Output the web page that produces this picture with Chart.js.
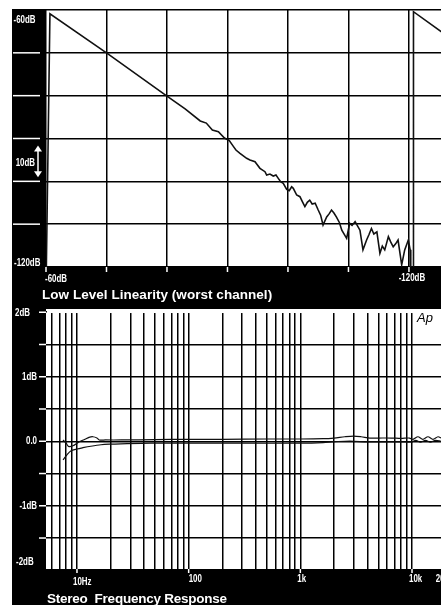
<!DOCTYPE html>
<html>
<head>
<meta charset="utf-8">
<script src="https://cdn.jsdelivr.net/npm/chart.js@4.4.1/dist/chart.umd.min.js"></script>
<style>
html, body { margin: 0; padding: 0; background: #fff; width: 441px; height: 605px; overflow: hidden; }
.wrap { position: absolute; left: 12px; width: 429px; height: 298px; }
#linWrap { top: 9px; }
#frWrap { top: 307px; }
canvas { display: block; }
</style>
</head>
<body>
<div class="wrap" id="linWrap"><canvas id="lin" width="429" height="298"></canvas></div>
<div class="wrap" id="frWrap"><canvas id="fr" width="429" height="298"></canvas></div>
<script>
// ---- Low level linearity: input level (dB) vs measured output level (dB)
const linInputDb = [-60.0, -60.65, -70, -80, -83, -85.5, -86.5, -87.5, -88.5, -89.5, -90.3, -91.0, -91.4, -92.07,
  -93.17, -93.72, -94.55, -94.83, -95.37, -96.2, -96.48, -97.02, -97.57, -98.02, -98.4, -98.79, -99.22, -99.79,
  -100.21, -100.61, -100.88, -101.44, -101.98, -102.4, -102.8, -103.2, -103.6, -104.0, -104.5, -105.0, -105.4,
  -105.8, -106.4, -106.8, -107.2, -107.6, -108.0, -108.5, -108.9, -109.7, -110.2, -110.6, -111.1, -111.9, -112.4,
  -113.0, -113.4, -113.8, -114.2, -114.7, -115.2, -115.6, -116.0, -116.6, -117.0, -117.4, -117.8, -118.2, -118.8,
  -119.3, -119.9, -120.2, -120.3, -120.7, -120.75, -125.5];
const linOutputDb = [-126, -60.9, -70.0, -80.1, -83.1, -85.9, -86.4, -88.0, -88.4, -89.9, -90.5, -91.9, -92.69, -93.46,
  -94.63, -95.02, -95.42, -95.96, -96.96, -97.75, -98.52, -98.29, -98.76, -98.52, -99.3, -100.09, -100.46, -101.86,
  -102.19, -101.26, -101.63, -103.19, -103.59, -104.8, -105.9, -104.9, -104.4, -105.3, -105.1, -106.7, -107.9,
  -110.2, -108.3, -107.6, -106.7, -107.4, -108.3, -109.6, -111.4, -113.3, -109.8, -110.3, -109.4, -111.4, -116.0,
  -113.7, -112.4, -111.0, -112.3, -111.8, -116.8, -115.1, -116.0, -112.9, -114.2, -115.3, -114.6, -113.7, -119.5,
  -116.0, -113.7, -116.0, -127, -127, -60.4, -65.2];
const linGridDb = [-60, -70, -80, -90, -100, -110, -120];
const linAxisEnd = -125.3;

// ---- Stereo frequency response: two channels, level deviation in dB
const freqLeftHz = [7.5, 8.0, 8.4, 9.2, 10.4, 11.8, 12.8, 13.9, 15.1, 15.8, 18, 25, 50, 100, 200, 500, 1000,
  1600, 2000, 2500, 3000, 3500, 4200, 5000, 6500, 8000, 9500, 10200, 11300, 12500, 13900, 15400, 17100, 18200];
const levelLeftDb = [0.02, -0.03, -0.08, -0.07, -0.01, 0.03, 0.06, 0.07, 0.05, 0.02, 0.02, 0.02, 0.025, 0.03,
  0.03, 0.035, 0.035, 0.04, 0.05, 0.07, 0.08, 0.07, 0.05, 0.05, 0.05, 0.045, 0.05, 0.03, 0.07, 0.03, 0.07,
  0.03, 0.07, 0.05];
const freqRightHz = [7.5, 8.1, 8.8, 10, 11.3, 13.3, 16.4, 20, 24.7, 46, 100, 300, 1000, 1600, 2000, 2500, 3000,
  4000, 6000, 8000, 10000, 10800, 11900, 13200, 14600, 16200, 18200];
const levelRightDb = [-0.29, -0.215, -0.15, -0.12, -0.10, -0.077, -0.054, -0.045, -0.04, -0.03, -0.03, -0.03,
  -0.03, -0.02, -0.005, 0.0, 0.0, -0.01, -0.01, -0.01, -0.01, 0.015, -0.015, 0.015, -0.015, 0.015, 0.0];
const freqGridHz = [6, 7, 8, 9, 10, 20, 30, 40, 50, 60, 70, 80, 90, 100, 200, 300, 400, 500, 600, 700, 800, 900,
  1000, 2000, 3000, 4000, 5000, 6000, 7000, 8000, 9000, 10000];
const levelGridDb = [-2, -1.5, -1, -0.5, 0, 0.5, 1, 1.5, 2];
const freqAxisMin = 5.28, freqAxisMax = 18180;
const levelAxisMin = -1.98, levelAxisMax = 2.05;

// ---- Texts
const linTitle = 'Low Level Linearity (worst channel)';
const linLevelLabels = ['-60dB', '-120dB'];
const linDivisionLabel = '10dB';
const frTitle = 'Stereo  Frequency Response';
const frLevelLabels = [{ v: 2, t: '2dB' }, { v: 1, t: '1dB' }, { v: 0, t: '0.0' }, { v: -1, t: '-1dB' }, { v: -2, t: '-2dB' }];
const frFreqLabels = [{ v: 10, t: '10Hz' }, { v: 100, t: '100' }, { v: 1000, t: '1k' }, { v: 10000, t: '10k' }, { v: 20000, t: '20k' }];
const frFreqTicks = [10, 100, 1000, 10000];
const frBadge = 'Ap';

const SANS = '"Liberation Sans", Arial, Helvetica, sans-serif';

// condensed label text (horizontally squeezed sans bold)
function put(ctx, s, x, y, font, align, color, squeeze) {
  const k = squeeze || 0.72;
  ctx.save();
  ctx.font = font;
  ctx.textAlign = align || 'left';
  ctx.textBaseline = 'middle';
  ctx.fillStyle = color || '#fff';
  ctx.translate(x, y);
  ctx.scale(k, 1);
  ctx.fillText(s, 0, 0);
  ctx.restore();
}
function putFit(ctx, s, x, y, font, width) {
  ctx.save();
  ctx.font = font;
  ctx.letterSpacing = '0px';
  const w = ctx.measureText(s).width;
  ctx.letterSpacing = ((width - w) / (s.length - 1)).toFixed(2) + 'px';
  ctx.textAlign = 'left';
  ctx.textBaseline = 'middle';
  ctx.fillStyle = '#fff';
  ctx.fillText(s, x, y);
  ctx.restore();
}

// black frame with a white plotting field
const panelFill = {
  id: 'panelFill',
  beforeDraw(chart) {
    const { ctx, chartArea: a, width, height } = chart;
    ctx.save();
    ctx.fillStyle = '#000';
    ctx.fillRect(0, 0, width, height);
    ctx.fillStyle = '#fff';
    ctx.fillRect(a.left, a.top, a.right - a.left, a.bottom - a.top);
    ctx.restore();
  }
};

const linDecor = {
  id: 'linDecor',
  afterDraw(chart) {
    const { ctx, chartArea: a, scales: { x, y } } = chart;
    ctx.save();
    ctx.strokeStyle = '#fff';
    ctx.lineWidth = 1.5;
    linGridDb.forEach(v => {
      if (v === -60 || v === -120) return;
      const py = y.getPixelForValue(v);
      ctx.beginPath(); ctx.moveTo(1, py); ctx.lineTo(28, py); ctx.stroke();
    });
    linGridDb.forEach(v => {
      const px = x.getPixelForValue(v);
      ctx.beginPath(); ctx.moveTo(px, a.bottom); ctx.lineTo(px, a.bottom + 5); ctx.stroke();
    });
    // 10 dB division marker
    const ya = y.getPixelForValue(-90) + 7, yb = y.getPixelForValue(-100) - 4, ax = 26;
    ctx.beginPath(); ctx.moveTo(ax, ya + 4); ctx.lineTo(ax, yb - 4); ctx.stroke();
    ctx.fillStyle = '#fff';
    ctx.beginPath(); ctx.moveTo(ax, ya); ctx.lineTo(ax - 4, ya + 6); ctx.lineTo(ax + 4, ya + 6); ctx.closePath(); ctx.fill();
    ctx.beginPath(); ctx.moveTo(ax, yb); ctx.lineTo(ax - 4, yb - 6); ctx.lineTo(ax + 4, yb - 6); ctx.closePath(); ctx.fill();
    const lf = 'bold 11px ' + SANS;
    put(ctx, linDivisionLabel, 23, (y.getPixelForValue(-90) + y.getPixelForValue(-100)) / 2 + 3, lf, 'right');
    put(ctx, linLevelLabels[0], 1.5, y.getPixelForValue(-60) + 10, lf, 'left');
    put(ctx, linLevelLabels[1], 2, y.getPixelForValue(-120) - 4, lf, 'left');
    put(ctx, linLevelLabels[0], x.getPixelForValue(-60) - 1, a.bottom + 12, lf, 'left');
    put(ctx, linLevelLabels[1], x.getPixelForValue(-120) + 3, a.bottom + 11, lf, 'center');
    putFit(ctx, linTitle, 30, a.bottom + 28, 'bold 13.5px ' + SANS, 230);
    ctx.restore();
  }
};

const frDecor = {
  id: 'frDecor',
  // the grid starts at the +2 dB level, leaving a clear strip along the top edge
  beforeDatasetsDraw(chart) {
    const { ctx, chartArea: a, scales: { y } } = chart;
    ctx.save();
    ctx.fillStyle = '#fff';
    ctx.fillRect(a.left + 1, a.top, a.right - a.left, y.getPixelForValue(2) - a.top + 0.8);
    ctx.restore();
  },
  afterDraw(chart) {
    const { ctx, chartArea: a, scales: { x, y } } = chart;
    ctx.save();
    ctx.strokeStyle = '#fff';
    ctx.lineWidth = 1.5;
    levelGridDb.forEach(v => {
      const py = y.getPixelForValue(v);
      if (py > a.bottom) return;
      ctx.beginPath(); ctx.moveTo(a.left - 7, py); ctx.lineTo(a.left, py); ctx.stroke();
    });
    frFreqTicks.forEach(v => {
      const px = x.getPixelForValue(v);
      ctx.beginPath(); ctx.moveTo(px, a.bottom); ctx.lineTo(px, a.bottom + 4); ctx.stroke();
    });
    const lf = 'bold 11px ' + SANS;
    frLevelLabels.forEach(l => {
      const py = y.getPixelForValue(l.v);
      if (l.v === 2) put(ctx, l.t, 3, py + 1, lf, 'left');
      else if (l.v === -2) put(ctx, l.t, 4, py - 8, lf, 'left');
      else put(ctx, l.t, 25, py, lf, 'right');
    });
    frFreqLabels.forEach(l => {
      const px = x.getPixelForValue(l.v);
      const dx = l.v === 10 ? -4 : (l.v === 20000 ? -10 : (l.v === 100 ? 0 : -3));
      put(ctx, l.t, px + dx, a.bottom + (l.v === 10 ? 13 : 10), lf, 'left');
    });
    putFit(ctx, frTitle, 35, a.bottom + 30, 'bold 13.5px ' + SANS, 180);
    put(ctx, frBadge, a.right - 24, a.top + 9, 'italic 13px ' + SANS, 'left', '#000', 1);
    ctx.restore();
  }
};

const noUi = { legend: { display: false }, tooltip: { enabled: false } };
const gridStyle = { color: '#000', lineWidth: 1.5, drawTicks: false };

new Chart(document.getElementById('lin'), {
  type: 'scatter',
  data: {
    datasets: [{
      data: linInputDb.map((v, i) => ({ x: v, y: linOutputDb[i] })),
      showLine: true, borderColor: '#111', borderWidth: 1.6, pointRadius: 0, tension: 0
    }]
  },
  options: {
    responsive: false, animation: false, events: [],
    layout: { padding: { top: 1, left: 0, right: 0, bottom: 0 } },
    plugins: noUi,
    scales: {
      x: {
        type: 'linear', reverse: true, min: linAxisEnd, max: -60, bounds: 'data',
        afterBuildTicks: ax => { ax.ticks = linGridDb.map(v => ({ value: v })); },
        afterFit: ax => { ax.height = 40; },
        ticks: { display: false }, grid: gridStyle, border: { display: false }
      },
      y: {
        type: 'linear', min: -120, max: -60, bounds: 'data',
        afterBuildTicks: ax => { ax.ticks = linGridDb.map(v => ({ value: v })); },
        afterFit: ax => { ax.width = 34; },
        ticks: { display: false }, grid: gridStyle, border: { display: false }
      }
    }
  },
  plugins: [panelFill, linDecor]
});

new Chart(document.getElementById('fr'), {
  type: 'scatter',
  data: {
    datasets: [
      { data: freqLeftHz.map((v, i) => ({ x: v, y: levelLeftDb[i] })), showLine: true, borderColor: '#111', borderWidth: 1.2, pointRadius: 0, tension: 0.3 },
      { data: freqRightHz.map((v, i) => ({ x: v, y: levelRightDb[i] })), showLine: true, borderColor: '#111', borderWidth: 1.2, pointRadius: 0, tension: 0.3 }
    ]
  },
  options: {
    responsive: false, animation: false, events: [],
    layout: { padding: { top: 2, left: 0, right: 0, bottom: 0 } },
    plugins: noUi,
    scales: {
      x: {
        type: 'logarithmic', min: freqAxisMin, max: freqAxisMax, bounds: 'data',
        afterBuildTicks: ax => { ax.ticks = freqGridHz.map(v => ({ value: v })); },
        afterFit: ax => { ax.height = 36; },
        ticks: { display: false }, grid: gridStyle, border: { display: false }
      },
      y: {
        type: 'linear', min: levelAxisMin, max: levelAxisMax, bounds: 'data',
        afterBuildTicks: ax => { ax.ticks = levelGridDb.map(v => ({ value: v })); },
        afterFit: ax => { ax.width = 34; },
        ticks: { display: false }, grid: gridStyle, border: { display: false }
      }
    }
  },
  plugins: [panelFill, frDecor]
});
</script>
</body>
</html>
